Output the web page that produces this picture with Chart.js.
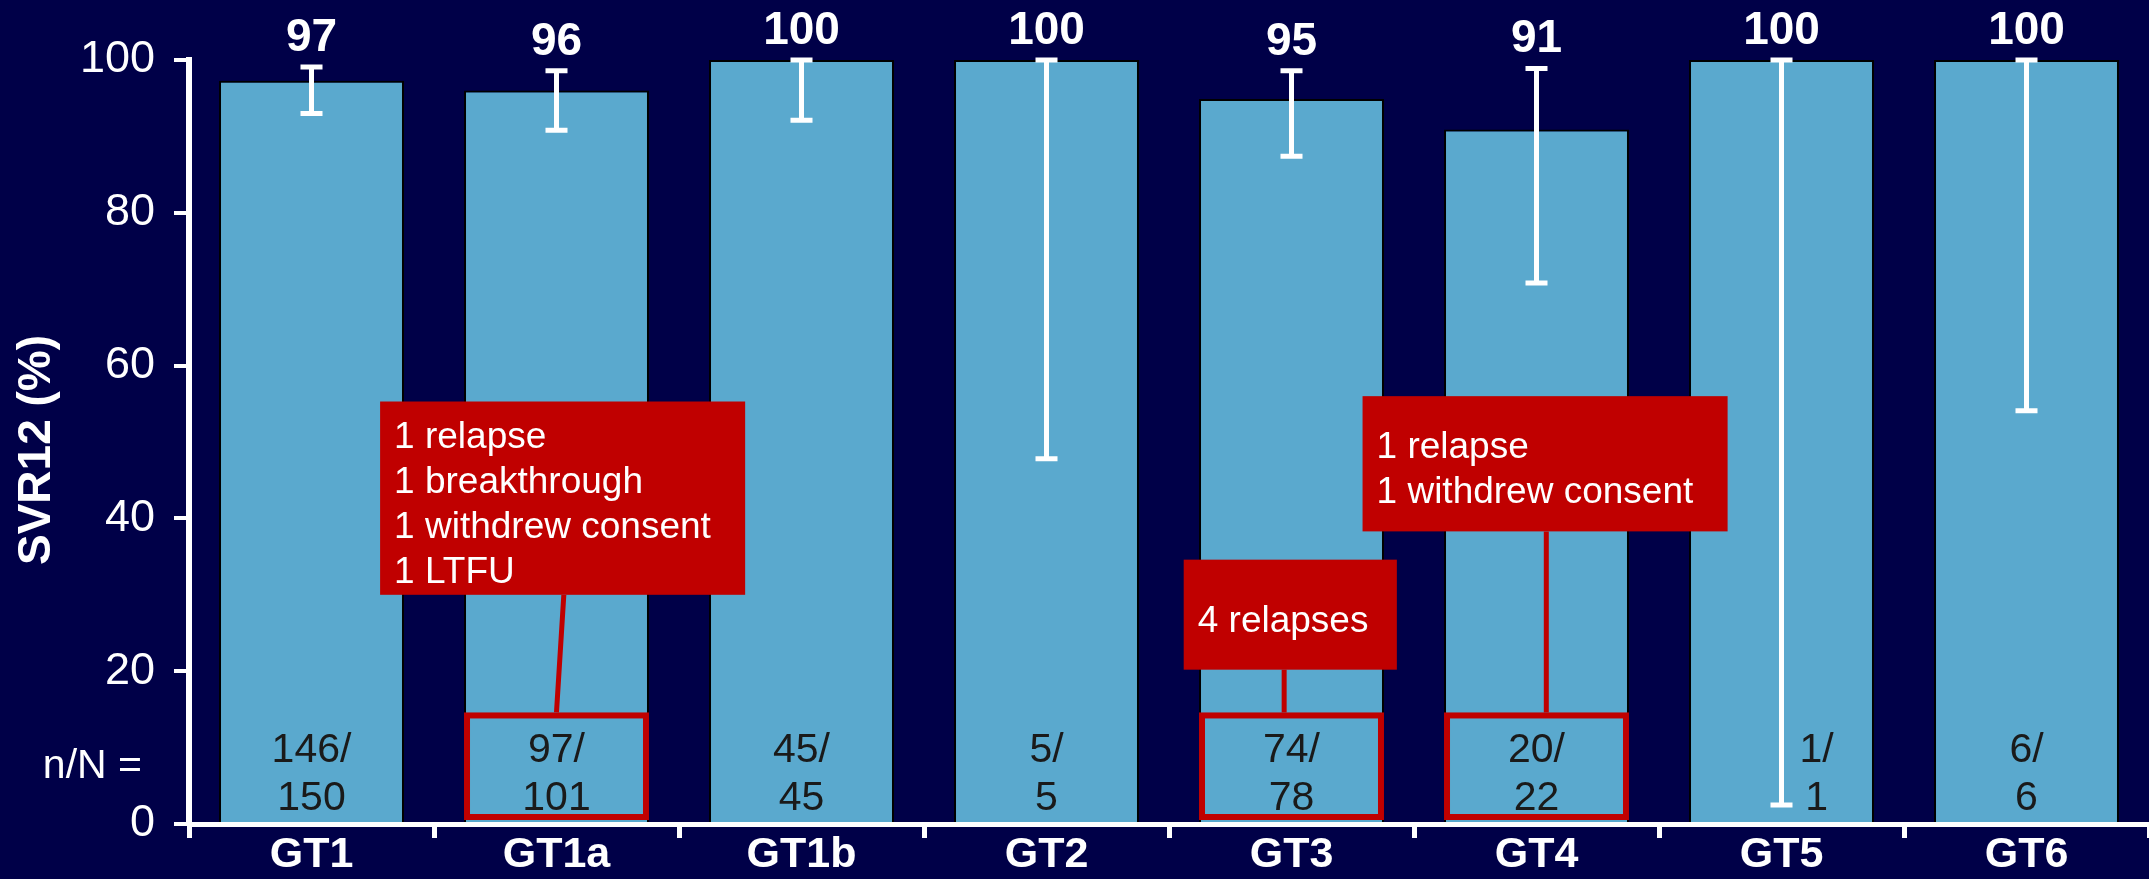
<!DOCTYPE html>
<html>
<head>
<meta charset="utf-8">
<script src="https://cdn.jsdelivr.net/npm/chart.js@4.4.0/dist/chart.umd.min.js"></script>
<style>
  html, body { margin: 0; padding: 0; background: #000048; overflow: hidden; }
</style>
</head>
<body>
<canvas id="svrChart" width="2149" height="879"></canvas>
<script>
const genotypes = ['GT1', 'GT1a', 'GT1b', 'GT2', 'GT3', 'GT4', 'GT5', 'GT6'];
const svrRates = [97.3, 96.0, 100, 100, 94.9, 90.9, 100, 100];
const svrLabels = ['97', '96', '100', '100', '95', '91', '100', '100'];
const ciLow = [93.0, 90.8, 92.1, 47.8, 87.4, 70.8, 2.5, 54.1];
const ciHigh = [99.1, 98.6, 100, 100, 98.6, 98.9, 100, 100];
const respondersN = [146, 97, 45, 5, 74, 20, 1, 6];
const totalN = [150, 101, 45, 5, 78, 22, 1, 6];
const yTicks = [0, 20, 40, 60, 80, 100];
const noteBars = [1, 4, 5];
const noteTexts = [
  ['1 relapse', '1 breakthrough', '1 withdrew consent', '1 LTFU'],
  ['4 relapses'],
  ['1 relapse', '1 withdrew consent']
];

const FONT = "'Liberation Sans', Arial, Helvetica, sans-serif";
const RED = '#C00000';

// where the callout boxes sit (category index / y value units)
const calloutPlaces = [
  { x0: 0.28, x1: 1.77, top: 55.3, bottom: 30.0, lineFrom: 1.03, lineTo: 1.0 },
  { x0: 3.56, x1: 4.43, top: 34.6, bottom: 20.2, lineFrom: 3.97, lineTo: 3.97 },
  { x0: 4.29, x1: 5.78, top: 56.0, bottom: 38.3, lineFrom: 5.04, lineTo: 5.04 }
];
const boxTopValue = 14.6;

const overlayPlugin = {
  id: 'overlay',
  afterDatasetsDraw(chart) {
    const ctx = chart.ctx;
    const xs = chart.scales.x;
    const ys = chart.scales.y;
    const bars = chart.getDatasetMeta(0).data;
    const y0 = ys.getPixelForValue(0);

    ctx.save();

    // y axis title
    ctx.save();
    ctx.translate(37, (ys.top + ys.bottom) / 2 + 8);
    ctx.rotate(-Math.PI / 2);
    ctx.fillStyle = '#ffffff';
    ctx.font = 'bold 46px ' + FONT;
    ctx.textAlign = 'center';
    ctx.textBaseline = 'middle';
    ctx.fillText('SVR12 (%)', 0, 0);
    ctx.restore();

    // error bars + value labels
    bars.forEach((bar, i) => {
      const cx = bar.x;
      const top = ys.getPixelForValue(ciHigh[i]);
      const bot = ys.getPixelForValue(ciLow[i]);
      ctx.strokeStyle = '#ffffff';
      ctx.lineWidth = 5;
      ctx.beginPath();
      ctx.moveTo(cx, top);
      ctx.lineTo(cx, bot);
      ctx.moveTo(cx - 11, top);
      ctx.lineTo(cx + 11, top);
      ctx.moveTo(cx - 11, bot);
      ctx.lineTo(cx + 11, bot);
      ctx.stroke();

      ctx.fillStyle = '#ffffff';
      ctx.font = 'bold 46px ' + FONT;
      ctx.textAlign = 'center';
      ctx.textBaseline = 'alphabetic';
      ctx.fillText(svrLabels[i], cx, top - 16);
    });

    // n/N inside bars
    ctx.font = '41px ' + FONT;
    ctx.fillStyle = '#1a1a1a';
    ctx.textAlign = 'center';
    ctx.textBaseline = 'alphabetic';
    bars.forEach((bar, i) => {
      const shift = ciLow[i] < 15 ? bar.width * 0.19 : 0;
      ctx.fillText(respondersN[i] + '/', bar.x + shift, y0 - 62);
      ctx.fillText(String(totalN[i]), bar.x + shift, y0 - 14);
    });
    ctx.fillStyle = '#ffffff';
    ctx.textAlign = 'right';
    ctx.fillText('n/N =', xs.left - 47, y0 - 46);

    // red outlines round the n/N of flagged bars
    ctx.strokeStyle = RED;
    ctx.lineWidth = 6;
    noteBars.forEach(i => {
      const bar = bars[i];
      const left = bar.x - bar.width / 2 + 3;
      const topY = ys.getPixelForValue(boxTopValue) + 3;
      const botY = y0 - 7;
      ctx.strokeRect(left, topY, bar.width - 6, botY - topY);
    });

    // leader lines
    ctx.lineWidth = 5;
    calloutPlaces.forEach(p => {
      ctx.beginPath();
      ctx.moveTo(xs.getPixelForValue(p.lineFrom), ys.getPixelForValue(p.bottom));
      ctx.lineTo(xs.getPixelForValue(p.lineTo), ys.getPixelForValue(boxTopValue));
      ctx.stroke();
    });

    // callout boxes
    ctx.font = '37px ' + FONT;
    ctx.textAlign = 'left';
    ctx.textBaseline = 'alphabetic';
    calloutPlaces.forEach((p, k) => {
      const left = xs.getPixelForValue(p.x0);
      const right = xs.getPixelForValue(p.x1);
      const top = ys.getPixelForValue(p.top);
      const bot = ys.getPixelForValue(p.bottom);
      ctx.fillStyle = RED;
      ctx.fillRect(left, top, right - left, bot - top);
      ctx.fillStyle = '#ffffff';
      const lines = noteTexts[k];
      const lh = 45;
      const mid = (top + bot) / 2;
      lines.forEach((t, j) => {
        ctx.fillText(t, left + 14, mid + (j - (lines.length - 1) / 2) * lh + 17);
      });
    });

    ctx.restore();
  }
};

new Chart(document.getElementById('svrChart'), {
  type: 'bar',
  data: {
    labels: genotypes,
    datasets: [{
      data: svrRates,
      backgroundColor: '#5AA9CE',
      borderColor: '#000000',
      borderWidth: 2,
      barPercentage: 0.755,
      categoryPercentage: 1.0
    }]
  },
  options: {
    responsive: false,
    animation: false,
    layout: { padding: { top: 60, right: 0, bottom: 0, left: 0 } },
    plugins: {
      legend: { display: false },
      tooltip: { enabled: false }
    },
    scales: {
      x: {
        afterFit: s => { s.height = 55; },
        border: { display: true, color: '#ffffff', width: 5 },
        grid: {
          offset: true,
          drawOnChartArea: false,
          drawTicks: true,
          tickLength: 14,
          color: '#ffffff',
          lineWidth: 5
        },
        ticks: {
          color: '#ffffff',
          padding: -9,
          font: { family: FONT, size: 43, weight: 'bold' }
        }
      },
      y: {
        min: 0,
        max: 100,
        afterFit: s => { s.width = 189; },
        afterBuildTicks: s => { s.ticks = yTicks.map(v => ({ value: v })); },
        border: { display: true, color: '#ffffff', width: 6 },
        grid: {
          drawOnChartArea: false,
          drawTicks: true,
          tickLength: 15,
          color: '#ffffff',
          lineWidth: 4
        },
        ticks: {
          color: '#ffffff',
          padding: 19,
          font: { family: FONT, size: 45 }
        }
      }
    }
  },
  plugins: [overlayPlugin]
});
</script>
</body>
</html>
